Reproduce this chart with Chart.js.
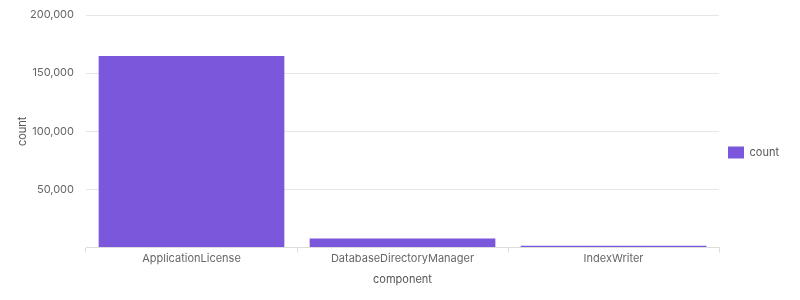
<!DOCTYPE html>
<html>
<head>
<meta charset="utf-8">
<script src="https://cdn.jsdelivr.net/npm/chart.js@4"></script>
<style>
  html, body { margin: 0; padding: 0; background: #fff; }
  #wrap { width: 800px; height: 300px; }
</style>
</head>
<body>
<div id="wrap"><canvas id="myChart"></canvas></div>
<script>
// chart data
const components = ['ApplicationLicense', 'DatabaseDirectoryManager', 'IndexWriter'];
const counts = [164800, 7800, 1500];
const yTicks = [0, 50000, 100000, 150000, 200000];

const ctx = document.getElementById('myChart');

Chart.defaults.font.family = 'Inter, "Noto Sans", sans-serif';
Chart.defaults.font.size = 11;
Chart.defaults.color = '#666';

new Chart(ctx, {
    type: 'bar',
    data: {
        labels: components,
        datasets: [{
            label: 'count',
            data: counts,
            backgroundColor: '#7b57db',
            borderWidth: 0,
            barPercentage: 0.88,
            categoryPercentage: 1
        }]
    },
    options: {
        responsive: true,
        maintainAspectRatio: false,
        animation: false,
        layout: { padding: { top: 15, left: 0, right: 11, bottom: 10 } },
        plugins: {
            legend: {
                position: 'right',
                labels: { boxWidth: 16, boxHeight: 12, padding: 9, color: '#555' }
            },
            tooltip: { enabled: false }
        },
        scales: {
            x: {
                grid: { drawOnChartArea: false, drawTicks: true, tickLength: 5, color: '#ddd' },
                border: { color: '#ddd' },
                ticks: { padding: -1 },
                title: { display: true, text: 'component', color: '#555', padding: { top: 9 } }
            },
            y: {
                min: yTicks[0],
                max: yTicks[yTicks.length - 1],
                afterBuildTicks: (axis) => { axis.ticks = yTicks.map(v => ({ value: v })); },
                afterFit: (axis) => { axis.width = 86; axis.paddingTop = 0; },
                grid: { color: '#e6e6e6', drawTicks: false },
                border: { display: false },
                ticks: {
                    padding: 12,
                    callback: (v) => v === 0 ? '' : v.toLocaleString('en-US')
                },
                title: { display: true, text: 'count', color: '#555', padding: { top: 16, bottom: 0 } }
            }
        }
    }
});
</script>
</body>
</html>
